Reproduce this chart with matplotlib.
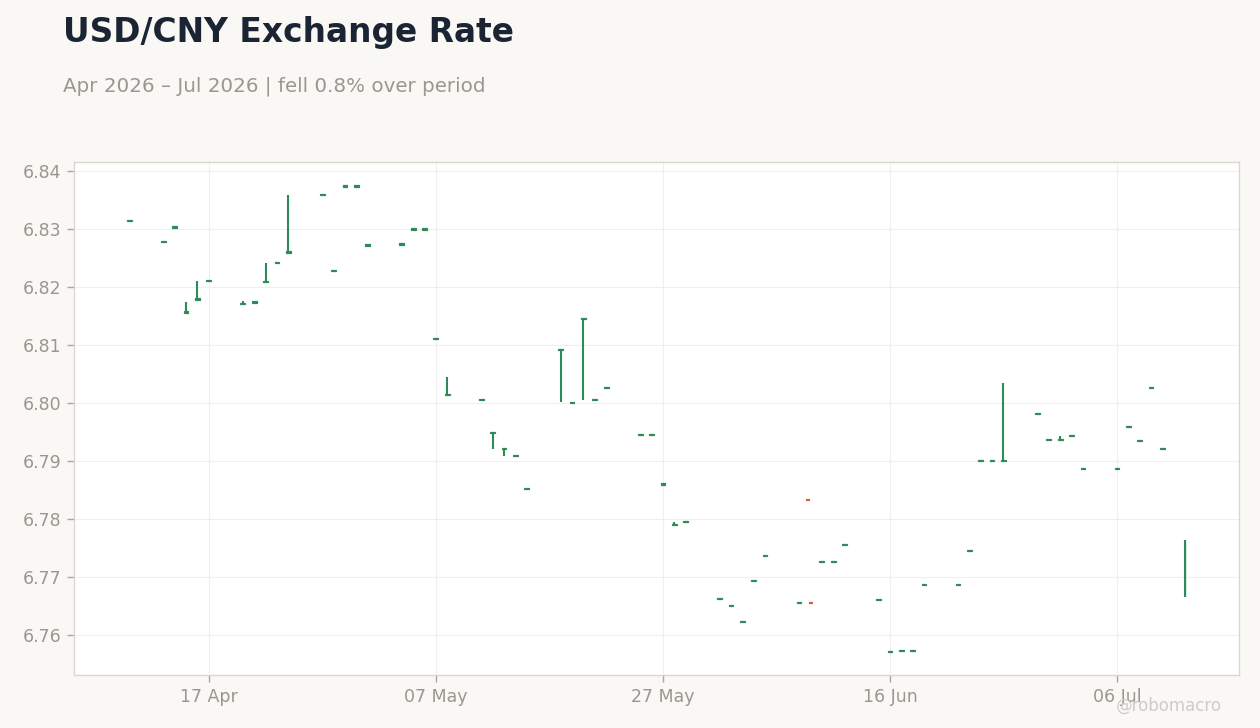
import numpy as np
import matplotlib
matplotlib.use("Agg")
import matplotlib.pyplot as plt
import matplotlib.dates as mdates
from datetime import datetime

# daily candles (open, high, low, close)
dates = [
    "2026-04-10", "2026-04-13", "2026-04-14", "2026-04-15", "2026-04-16", "2026-04-17",
    "2026-04-20", "2026-04-21", "2026-04-22", "2026-04-23", "2026-04-24",
    "2026-04-27", "2026-04-28", "2026-04-29", "2026-04-30", "2026-05-01",
    "2026-05-04", "2026-05-05", "2026-05-06", "2026-05-07", "2026-05-08",
    "2026-05-11", "2026-05-12", "2026-05-13", "2026-05-14", "2026-05-15",
    "2026-05-18", "2026-05-19", "2026-05-20", "2026-05-21", "2026-05-22",
    "2026-05-25", "2026-05-26", "2026-05-27", "2026-05-28", "2026-05-29",
    "2026-06-01", "2026-06-02", "2026-06-03", "2026-06-04", "2026-06-05",
    "2026-06-08", "2026-06-08 18:00", "2026-06-09", "2026-06-10", "2026-06-11", "2026-06-12",
    "2026-06-15", "2026-06-16", "2026-06-17", "2026-06-18", "2026-06-19",
    "2026-06-22", "2026-06-23", "2026-06-24", "2026-06-25", "2026-06-26",
    "2026-06-29", "2026-06-30", "2026-07-01", "2026-07-02", "2026-07-03",
    "2026-07-06", "2026-07-07", "2026-07-08", "2026-07-09", "2026-07-10",
    "2026-07-12",
]
opens = [
    6.8313, 6.8277, 6.8302, 6.8156, 6.8178, 6.8210,
    6.8170, 6.8173, 6.8208, 6.8241, 6.8259,
    6.8358, 6.8227, 6.8373, 6.8373, 6.8271,
    6.8273, 6.8299, 6.8299, 6.8110, 6.8013,
    6.8005, 6.7948, 6.7920, 6.7908, 6.7851,
    6.8091, 6.8000, 6.8144, 6.8005, 6.8025,
    6.7944, 6.7944, 6.7859, 6.7789, 6.7794,
    6.7662, 6.7650, 6.7622, 6.7693, 6.7736,
    6.7655, 6.7834, 6.7657, 6.7725, 6.7725, 6.7755,
    6.7660, 6.7570, 6.7572, 6.7572, 6.7686,
    6.7686, 6.7744, 6.7900, 6.7900, 6.7900,
    6.7981, 6.7936, 6.7936, 6.7943, 6.7886,
    6.7886, 6.7958, 6.7934, 6.8025, 6.7920,
    6.7668,
]
highs = [
    6.8315, 6.8279, 6.8304, 6.8174, 6.8210, 6.8212,
    6.8176, 6.8175, 6.8241, 6.8243, 6.8359,
    6.8360, 6.8229, 6.8375, 6.8375, 6.8273,
    6.8275, 6.8301, 6.8301, 6.8112, 6.8045,
    6.8007, 6.7950, 6.7922, 6.7910, 6.7853,
    6.8093, 6.8002, 6.8146, 6.8007, 6.8027,
    6.7946, 6.7946, 6.7861, 6.7795, 6.7796,
    6.7664, 6.7652, 6.7624, 6.7695, 6.7738,
    6.7657, 6.7834, 6.7657, 6.7727, 6.7727, 6.7757,
    6.7662, 6.7572, 6.7574, 6.7574, 6.7688,
    6.7688, 6.7746, 6.7902, 6.7902, 6.8034,
    6.7983, 6.7938, 6.7943, 6.7945, 6.7888,
    6.7888, 6.7960, 6.7936, 6.8027, 6.7922,
    6.7763,
]
lows = [
    6.8313, 6.8277, 6.8302, 6.8156, 6.8178, 6.8210,
    6.8170, 6.8173, 6.8208, 6.8241, 6.8259,
    6.8358, 6.8227, 6.8373, 6.8373, 6.8271,
    6.8273, 6.8299, 6.8299, 6.8110, 6.8013,
    6.8005, 6.7921, 6.7909, 6.7908, 6.7851,
    6.8001, 6.8000, 6.8006, 6.8005, 6.8025,
    6.7944, 6.7944, 6.7859, 6.7789, 6.7794,
    6.7662, 6.7650, 6.7622, 6.7693, 6.7736,
    6.7655, 6.7832, 6.7655, 6.7725, 6.7725, 6.7755,
    6.7660, 6.7570, 6.7572, 6.7572, 6.7686,
    6.7686, 6.7744, 6.7900, 6.7900, 6.7900,
    6.7981, 6.7936, 6.7936, 6.7943, 6.7886,
    6.7886, 6.7958, 6.7934, 6.8025, 6.7920,
    6.7666,
]
closes = [
    6.8315, 6.8279, 6.8304, 6.8158, 6.8180, 6.8212,
    6.8172, 6.8175, 6.8210, 6.8243, 6.8261,
    6.8360, 6.8229, 6.8375, 6.8375, 6.8273,
    6.8275, 6.8301, 6.8301, 6.8112, 6.8015,
    6.8007, 6.7950, 6.7922, 6.7910, 6.7853,
    6.8093, 6.8002, 6.8146, 6.8007, 6.8027,
    6.7946, 6.7946, 6.7861, 6.7791, 6.7796,
    6.7664, 6.7652, 6.7624, 6.7695, 6.7738,
    6.7657, 6.7832, 6.7655, 6.7727, 6.7727, 6.7757,
    6.7662, 6.7572, 6.7574, 6.7574, 6.7688,
    6.7688, 6.7746, 6.7902, 6.7902, 6.7902,
    6.7983, 6.7938, 6.7938, 6.7945, 6.7888,
    6.7888, 6.7960, 6.7936, 6.8027, 6.7922,
    6.7762,
]
tick_dates = ["2026-04-17", "2026-05-07", "2026-05-27", "2026-06-16", "2026-07-06"]

UP = "#2e8b57"
DOWN = "#d65a3a"
BG = "#f9f8f5"

x = mdates.date2num([datetime.fromisoformat(d) for d in dates])
o = np.array(opens); h = np.array(highs); l = np.array(lows); c = np.array(closes)
up = c >= o

# box width from the tightest spacing within each colour group (plotly-ish)
def group_width(xs):
    if len(xs) < 2:
        return 0.42
    return min(0.42, np.min(np.diff(np.sort(xs))) * 0.8)

w = np.where(up, group_width(x[up]), group_width(x[~up]))
w[-1] = 0.05  # latest (partial) candle drawn thin

fig = plt.figure(figsize=(12.6, 7.28), dpi=100, facecolor=BG)
ax = fig.add_axes([74/1260, 1-675/728, (1239-74)/1260, (675-162)/728])
ax.set_facecolor("white")

cols = np.where(up, UP, DOWN)
ax.vlines(x, l, h, colors=cols, linewidth=1.5, zorder=3)
body = np.maximum(np.abs(c - o), 0.00025)
ax.bar(x, body, bottom=np.minimum(o, c), width=w, color=cols, edgecolor=cols,
       linewidth=0.9, zorder=4, align="center")

ax.set_xlim(datetime(2026, 4, 5, 3), datetime(2026, 7, 16, 18))
ax.set_ylim(6.7531, 6.84155)
ax.set_yticks([6.76, 6.77, 6.78, 6.79, 6.80, 6.81, 6.82, 6.83, 6.84])
ax.yaxis.set_major_formatter(matplotlib.ticker.FormatStrFormatter("%.2f"))
ax.set_xticks(mdates.date2num([datetime.fromisoformat(d) for d in tick_dates]))
ax.xaxis.set_major_formatter(mdates.DateFormatter("%d %b"))

ax.grid(True, color="#efefef", linewidth=0.8, zorder=0)
ax.set_axisbelow(True)
for s in ax.spines.values():
    s.set_color("#dcd7cd")
    s.set_linewidth(1.0)
ax.tick_params(colors="#9a9690", labelsize=12.5, length=5, width=1, pad=4)
ax.tick_params(axis="both", color="#aaa6a0")

fig.text(63/1260, 1-42/728, "USD/CNY Exchange Rate", fontsize=23.7, fontweight="bold",
         color="#1b2433", va="baseline", ha="left")
fig.text(63/1260, 1-92/728, "Apr 2026 \u2013 Jul 2026 | fell 0.8% over period", fontsize=14.3,
         color="#9a9690", va="baseline", ha="left")
fig.text(1222/1260, 1-711/728, "@robomacro", fontsize=12, color="#cfccc7",
         va="baseline", ha="right")

fig.savefig("out.png", dpi=100, facecolor=BG)
